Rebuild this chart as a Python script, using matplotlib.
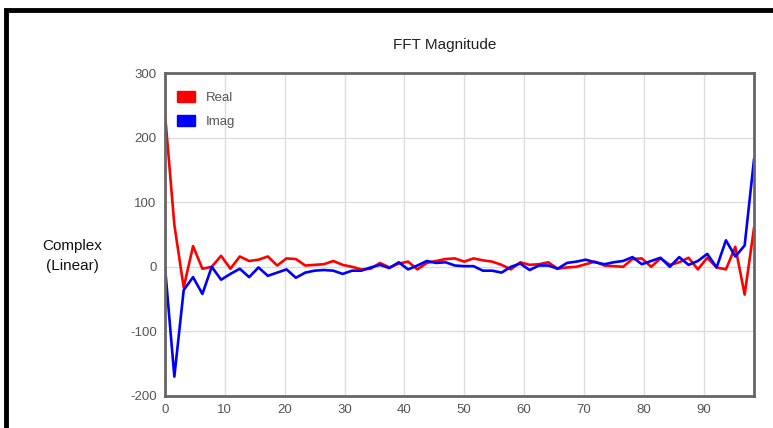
import matplotlib
matplotlib.use("Agg")
import matplotlib.pyplot as plt
from matplotlib.patches import Rectangle, Patch
import numpy as np

plt.rcParams["font.family"] = ["Liberation Sans", "DejaVu Sans"]
plt.rcParams["axes.unicode_minus"] = False

# 64-point FFT, bins spread over 0..98.4
n_bins = 64
bin_step = 100 / 64
x_vals = np.arange(n_bins) * bin_step

real_vals = [237, 65, -32, 32, -3, 0, 17, -3, 16, 9,
             11, 16, 2, 13, 12, 2, 3, 4, 9, 3,
             0, -4, -3, 6, -1, 5, 8, -4, 6, 9,
             12, 13, 8, 13, 10, 8, 3, -4, 7, 3,
             4, 7, -3, -1, 0, 4, 8, 2, 1, 0,
             12, 13, 0, 13, 3, 7, 14, -4, 14, -1,
             -4, 31, -43, 60]
imag_vals = [0, -170, -36, -16, -42, 0, -20, -11, -3, -16,
             -1, -14, -9, -4, -17, -9, -6, -5, -6, -11,
             -6, -6, -1, 3, -2, 7, -4, 2, 9, 6,
             7, 2, 1, 1, -6, -6, -9, 0, 5, -5,
             2, 2, -3, 6, 8, 11, 7, 4, 7, 9,
             15, 4, 9, 14, 0, 15, 3, 9, 20, -1,
             41, 16, 33, 166]

x_ticks = [0, 10, 20, 30, 40, 50, 60, 70, 80, 90]
y_ticks = [-200, -100, 0, 100, 200, 300]

W, H = 773, 428
fig = plt.figure(figsize=(W / 100, H / 100), dpi=100)

# black frame around the whole chart (cut off at right/bottom)
fig.patches.append(Rectangle((6 / W, -0.05), 1.2, 1 - 10 / H + 0.05,
                             transform=fig.transFigure, fill=False,
                             edgecolor="black", linewidth=3.5))

ax = fig.add_axes([165 / W, 1 - 396 / H, 589 / W, 323 / H])
ax.plot(x_vals, real_vals, color="#ff0000", linewidth=1.9, label="Real")
ax.plot(x_vals, imag_vals, color="#0000ff", linewidth=1.9, label="Imag")

ax.set_xlim(0, x_vals[-1])
ax.set_ylim(-200, 300)
ax.set_xticks(x_ticks)
ax.set_yticks(y_ticks)
ax.grid(True, color="#dddddd", linewidth=1)
ax.set_axisbelow(True)
ax.tick_params(length=0, labelsize=9.5, colors="#555555", pad=6)
for s in ax.spines.values():
    s.set_color("#666666")
    s.set_linewidth(2)

handles = [Patch(facecolor="#ff0000", edgecolor="#ff0000"),
           Patch(facecolor="#0000ff", edgecolor="#0000ff")]
leg = ax.legend(handles, ["Real", "Imag"], loc="upper left", frameon=False,
                fontsize=9.5, handlelength=1.4, handleheight=0.9,
                labelspacing=0.8, bbox_to_anchor=(0.0, 0.98))
for t in leg.get_texts():
    t.set_color("#555555")

fig.text(445 / W, 1 - 45 / H, "FFT Magnitude", ha="center", va="center",
         fontsize=11, color="#222222")
fig.text(72 / W, 1 - 256 / H, "Complex\n(Linear)", ha="center", va="center",
         fontsize=11, color="#111111", linespacing=1.5)

fig.savefig("out.png", dpi=100)
